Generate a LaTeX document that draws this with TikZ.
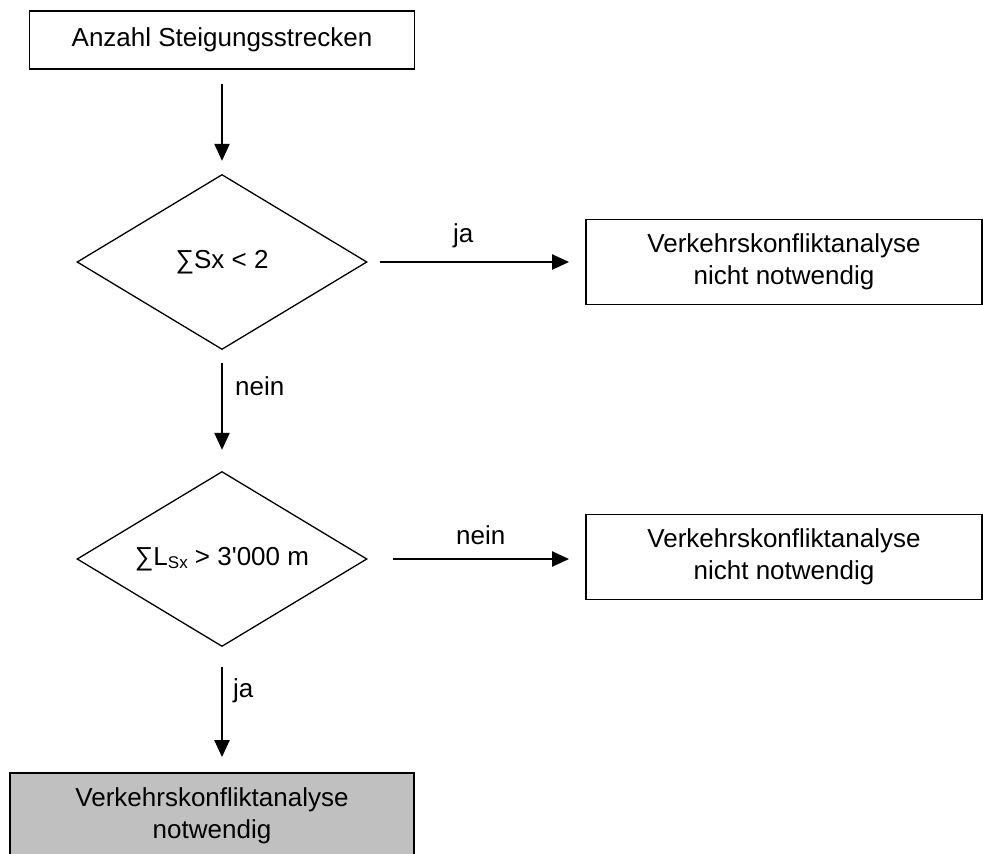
\documentclass[tikz,border=0pt]{standalone}
\usepackage{fontspec}
\setmainfont{Liberation Sans}[Ligatures=TeXOff]
\usetikzlibrary{shapes.geometric,arrows.meta}
\begin{document}
\begin{tikzpicture}[x=1pt,y=-1pt,
  every node/.style={font=\fontsize{26}{31.5}\selectfont, align=center, inner sep=0pt},
  box/.style={draw, line width=1.8pt, rectangle},
  decision/.style={draw, line width=1.3pt, diamond, aspect=1.657, minimum width=290pt, minimum height=175pt},
  arr/.style={line width=2.2pt, -{Triangle[width=15pt,length=17pt]}},
  lbl/.style={font=\fontsize{26}{31.5}\selectfont}]
\useasboundingbox (0,0) rectangle (983,854);
\clip (0,0) rectangle (983,854);
\node[box, minimum width=385pt, minimum height=58pt] (top) at (222,40) {Anzahl Steigungsstrecken};
\node[decision] (d1) at (222,262) {∑Sx < 2};
\node[box, minimum width=396pt, minimum height=85pt] (r1) at (784,262) {Verkehrskonfliktanalyse\\nicht notwendig};
\node[decision] (d2) at (222,559) {∑L{\fontsize{17}{17}\selectfont\raisebox{-3pt}{Sx}} > 3'000 m};
\node[box, minimum width=396pt, minimum height=85pt] (r2) at (784,557) {Verkehrskonfliktanalyse\\nicht notwendig};
\node[box, fill={rgb,255:red,192;green,192;blue,192}, minimum width=404pt, minimum height=86pt] (bot) at (212,816) {Verkehrskonfliktanalyse\\notwendig};
\draw[arr, shorten <=14pt, shorten >=13pt] (top.south) -- (d1.north);
\draw[arr, shorten <=12pt, shorten >=16pt] (d1.east) -- (r1.west) node[lbl, pos=0.44, above=13pt] {ja};
\draw[arr, shorten <=12.5pt, shorten >=21pt] (d1.south) -- (d2.north) node[lbl, pos=0.3, right=12pt] {nein};
\draw[arr, shorten <=25pt, shorten >=16pt] (d2.east) -- (d2.east -| r2.west) node[lbl, pos=0.52, above=13pt] {nein};
\draw[arr, shorten <=19.5pt, shorten >=15pt] (d2.south) -- (d2.south |- bot.north) node[lbl, pos=0.35, right=10pt] {ja};
\end{tikzpicture}
\end{document}
